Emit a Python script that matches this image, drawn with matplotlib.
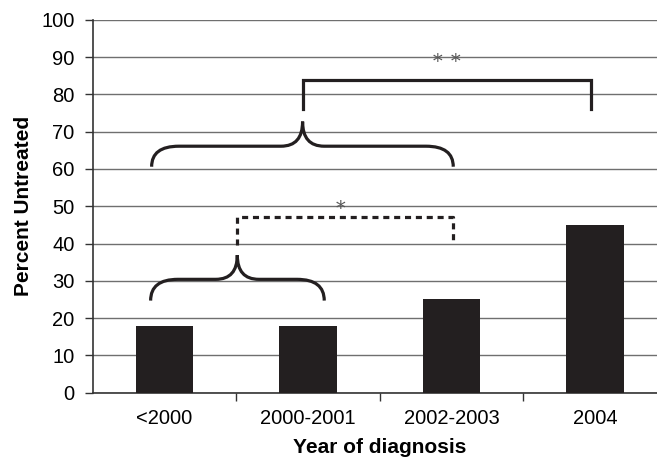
import matplotlib.pyplot as plt
from matplotlib.path import Path
from matplotlib.patches import PathPatch

plt.rcParams['font.family'] = ['Liberation Sans', 'DejaVu Sans']

categories = ["<2000", "2000-2001", "2002-2003", "2004"]
pct_untreated = [18, 18, 25, 45]

# braces grouping categories: (left, right, middle, bottom, flat, peak)
braces = [
    (-0.096, 1.114, 0.508, 24.7, 30.4, 36.9),
    (-0.089, 2.013, 0.963, 60.6, 66.1, 72.7),
]
# significance brackets: (x left, x right, top, left end, right end, style)
brackets = [
    (0.503, 2.009, 47.2, 39.6, 40.9, "dashed"),
    (0.963, 2.97, 83.8, 76.2, 76.2, "solid"),
]
# asterisk marks (x, y)
stars = [(1.228, 51.0), (1.90, 90.5), (2.026, 90.5)]

fig = plt.figure(figsize=(6.57, 4.57), dpi=100)
ax = fig.add_axes([0.141, 0.1407, 0.8737, 0.816])

x = range(len(categories))
ax.bar(x, pct_untreated, 0.40, color="#231f20", zorder=3)

ax.set_xlim(-0.5, 3.5)
ax.set_ylim(0, 100)
ax.set_yticks(range(0, 101, 10))
ax.yaxis.grid(True, color="#6f6f6f", linewidth=1.0, zorder=0)
ax.set_axisbelow(True)
ax.set_xticks(list(x))
ax.set_xticklabels(categories, fontsize=14.5)
ax.set_xticks([0.5, 1.5, 2.5], minor=True)
ax.tick_params(axis="x", which="major", length=0, pad=12)
ax.tick_params(axis="x", which="minor", length=6, width=1, color="#333333")
ax.tick_params(axis="y", length=6, width=1, color="#333333", labelsize=14.5, pad=7)
for s in ["top", "right"]:
    ax.spines[s].set_visible(False)
for s in ["left", "bottom"]:
    ax.spines[s].set_color("#333333")
    ax.spines[s].set_linewidth(1.2)

ax.set_xlabel("Year of diagnosis", fontsize=15, fontweight="bold", labelpad=7)
ax.set_ylabel("Percent Untreated", fontsize=15, fontweight="bold", labelpad=6)

dx = 0.19
dc = 0.15
for x0, x1, xm, yb, yf, yp in braces:
    verts = [(x0, yb), (x0, yf), (x0 + dx, yf), (xm - dc, yf), (xm, yf), (xm, yp),
             (xm, yf), (xm + dc, yf), (x1 - dx, yf), (x1, yf), (x1, yb)]
    codes = [Path.MOVETO, Path.CURVE3, Path.CURVE3, Path.LINETO, Path.CURVE3, Path.CURVE3,
             Path.CURVE3, Path.CURVE3, Path.LINETO, Path.CURVE3, Path.CURVE3]
    ax.add_patch(PathPatch(Path(verts, codes), fill=False, lw=2.3,
                           edgecolor="#231f20", capstyle="butt", zorder=4))

for xl, xr, top, yl, yr, style in brackets:
    line, = ax.plot([xl, xl, xr, xr], [yl, top, top, yr], color="#231f20", lw=2.3,
                    solid_joinstyle="miter", zorder=4)
    if style == "dashed":
        line.set_dashes((1.9, 1.5))

for sx, sy in stars:
    ax.text(sx, sy - 3.1, "*", fontsize=14, color="#555555", ha="center",
            va="baseline", family="DejaVu Serif")

fig.savefig("out.png", dpi=100)
